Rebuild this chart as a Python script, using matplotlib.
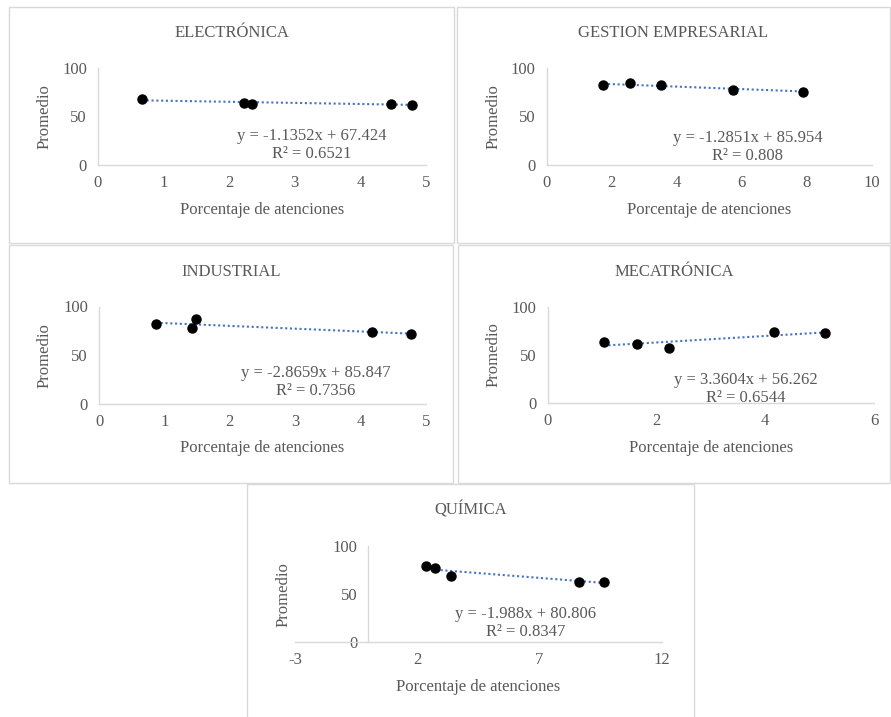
import matplotlib

matplotlib.use("Agg")
import matplotlib.pyplot as plt
import numpy as np
from matplotlib.patches import Rectangle

plt.rcParams["font.family"] = ["Liberation Serif", "DejaVu Serif"]
plt.rcParams["axes.unicode_minus"] = False

W, H = 891, 717
GRAY = "#595959"
LINE = "#d9d9d9"
BLUE = "#4472C4"

titles = ["ELECTRÓNICA", "GESTION EMPRESARIAL", "INDUSTRIAL", "MECATRÓNICA", "QUÍMICA"]

x_electronica = [0.67, 2.23, 2.35, 4.47, 4.79]
y_electronica = [68.0, 63.5, 63.3, 62.9, 62.2]
x_gestion = [1.74, 2.56, 3.53, 5.72, 7.90]
y_gestion = [82.5, 84.2, 82.5, 77.3, 75.6]
x_industrial = [0.87, 1.42, 1.49, 4.18, 4.77]
y_industrial = [81.9, 78.4, 87.0, 73.7, 71.9]
x_mecatronica = [1.03, 1.64, 2.23, 4.16, 5.10]
y_mecatronica = [63.8, 61.1, 56.9, 74.1, 72.5]
x_quimica = [2.37, 2.71, 3.39, 8.60, 9.62]
y_quimica = [79.5, 76.8, 69.2, 62.9, 62.6]

slopes = [-1.1352, -1.2851, -2.8659, 3.3604, -1.988]
intercepts = [67.424, 85.954, 85.847, 56.262, 80.806]
r2_labels = ["0.6521", "0.808", "0.7356", "0.6544", "0.8347"]
eq_labels = [
    "y = -1.1352x + 67.424",
    "y = -1.2851x + 85.954",
    "y = -2.8659x + 85.847",
    "y = 3.3604x + 56.262",
    "y = -1.988x + 80.806",
]

x_ticks = [[0, 1, 2, 3, 4, 5], [0, 2, 4, 6, 8, 10], [0, 1, 2, 3, 4, 5], [0, 2, 4, 6], [-3, 2, 7, 12]]
y_ticks = [0, 50, 100]

xs = [x_electronica, x_gestion, x_industrial, x_mecatronica, x_quimica]
ys = [y_electronica, y_gestion, y_industrial, y_mecatronica, y_quimica]

# pixel layout: panel box (l, t, r, b), plot area (l, t, r, b), title y, eq pos, label offsets
boxes = [(9, 7, 454, 243), (457, 7, 890, 243), (9, 245, 453, 483), (458, 245, 890, 483), (247, 484, 694, 725)]
areas = [(98, 68, 426, 165), (546.7, 68, 871.7, 165), (99, 306.5, 426, 404),
         (547.7, 306.7, 874, 403.3), (295, 546, 661.7, 642.3)]
title_y = [33, 33, 271.7, 271.7, 510]
eq_pos = [(0.652, 0.206), (0.618, 0.186), (0.663, 0.229), (0.608, 0.151), (0.629, 0.197)]
ylabel_x = [45, 45 + 449, 45, 45 + 449, 283.3]
xlabel_y = [210, 210, 448.3, 448.3, 686.7]

fig = plt.figure(figsize=(W / 100, H / 100), dpi=100)

for i in range(5):
    bl, bt, br, bb = boxes[i]
    fig.patches.append(Rectangle((bl / W, 1 - bb / H), (br - bl) / W, (bb - bt) / H,
                                 transform=fig.transFigure, fill=False, ec=LINE, lw=1))
    al, at, ar, ab = areas[i]
    ax = fig.add_axes([al / W, 1 - ab / H, (ar - al) / W, (ab - at) / H])
    ax.set_xlim(x_ticks[i][0], x_ticks[i][-1])
    ax.set_ylim(0, 100)
    ax.set_xticks(x_ticks[i])
    ax.set_yticks(y_ticks)
    for s in ["top", "right"]:
        ax.spines[s].set_visible(False)
    for s in ["left", "bottom"]:
        ax.spines[s].set_color(LINE)
        ax.spines[s].set_linewidth(1)
    if x_ticks[i][0] < 0:
        ax.spines["left"].set_position(("data", 0))
    ax.tick_params(length=0, labelsize=12, labelcolor=GRAY)
    ax.tick_params(axis="y", pad=8)
    ax.tick_params(axis="x", pad=7)
    ax.patch.set_visible(False)

    x = np.array(xs[i])
    line_x = np.array([x.min(), x.max()])
    ax.plot(line_x, slopes[i] * line_x + intercepts[i], color=BLUE, lw=1.5,
            linestyle=(0, (1, 1.3)), dash_capstyle="butt", zorder=2)
    ax.plot(xs[i], ys[i], "o", ms=6.5, mfc="black", mec="black", zorder=3, clip_on=False)

    ax.text(eq_pos[i][0], eq_pos[i][1], eq_labels[i] + "\nR² = " + r2_labels[i],
            transform=ax.transAxes, ha="center", va="center", fontsize=12, color=GRAY,
            linespacing=1.15)

    ax.set_xlabel("Porcentaje de atenciones", fontsize=12, color=GRAY, va="center")
    ax.set_ylabel("Promedio", fontsize=12, color=GRAY, va="center")
    ax.xaxis.set_label_coords(0.5, (ab - xlabel_y[i]) / (ab - at))
    ax.yaxis.set_label_coords((ylabel_x[i] - al) / (ar - al), 0.5)

    fig.text((bl + br) / 2 / W, 1 - title_y[i] / H, titles[i], ha="center", va="center",
             fontsize=12, color=GRAY)

fig.savefig("out.png", dpi=100)
